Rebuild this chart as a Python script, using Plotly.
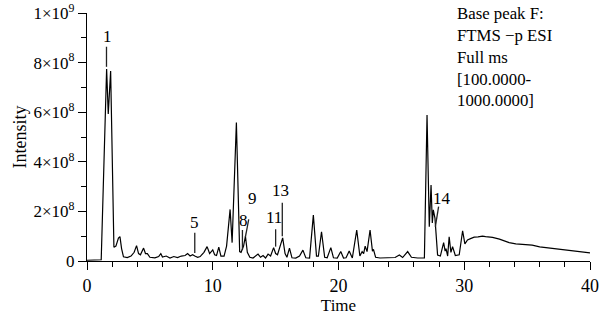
import plotly.graph_objects as go
import numpy as np

# Retention time (min)
times = [
    0.0, 1.05, 1.13, 1.56, 1.69, 1.88, 2.14, 2.3, 2.5, 2.62, 2.75, 2.9, 3.2, 3.5, 3.75, 3.94,
    4.1, 4.25, 4.4, 4.5, 4.65, 4.8, 5.0, 5.4, 5.7, 5.87, 6.0, 6.3, 6.6, 6.9, 7.2, 7.5, 7.8,
    8.0, 8.2, 8.4, 8.57, 8.8, 9.0, 9.3, 9.55, 9.75, 10.0, 10.15, 10.3, 10.48, 10.65, 10.9,
    11.1, 11.38, 11.54, 11.88, 12.14, 12.25, 12.45, 12.6, 12.75, 12.95, 13.2, 13.6, 13.8,
    14.0, 14.2, 14.4, 14.6, 14.84, 15.0, 15.15, 15.56, 15.75, 15.9, 16.1, 16.3, 16.6, 16.9,
    17.17, 17.4, 17.7, 18.0, 18.25, 18.4, 18.65, 18.9, 19.1, 19.39, 19.6, 19.9, 20.18, 20.4,
    20.6, 20.85, 21.1, 21.45, 21.7, 21.88, 22.0, 22.12, 22.27, 22.51, 22.7, 22.78, 22.95,
    23.3, 24.0, 24.5, 24.84, 25.1, 25.5, 25.8, 26.3, 26.83, 27.04, 27.22, 27.36, 27.46,
    27.54, 27.67, 27.88, 28.1, 28.36, 28.48, 28.55, 28.68, 28.8, 28.94, 29.07, 29.29, 29.6,
    29.87, 30.05, 30.26, 30.5, 30.79, 31.1, 31.45, 31.7, 32.25, 32.8, 33.57, 34.1, 35.2,
    35.4, 36.0, 37.0, 38.07, 39.0, 40.0,
]

# Intensity in units of 1e8
intensity_e8 = [
    0.03, 0.03, 0.05, 7.74, 5.93, 7.66, 0.55, 0.6, 0.92, 0.98, 0.5, 0.17, 0.14, 0.2, 0.35, 0.62,
    0.3, 0.25, 0.45, 0.52, 0.3, 0.3, 0.15, 0.13, 0.18, 0.3, 0.16, 0.2, 0.12, 0.18, 0.14, 0.2, 0.22,
    0.3, 0.2, 0.25, 0.2, 0.15, 0.18, 0.35, 0.58, 0.3, 0.45, 0.25, 0.22, 0.56, 0.2, 0.2,
    0.6, 2.08, 0.74, 5.58, 0.38, 0.35, 0.6, 1.0, 0.35, 0.15, 0.12, 0.28, 0.15,
    0.22, 0.12, 0.28, 0.2, 0.54, 0.3, 0.25, 0.93, 0.3, 0.15, 0.52, 0.13, 0.12, 0.2,
    0.44, 0.13, 0.12, 1.85, 0.2, 0.2, 1.18, 0.15, 0.13, 0.54, 0.13, 0.12, 0.38, 0.12,
    0.13, 0.4, 0.12, 1.25, 0.2, 0.38, 0.3, 0.6, 0.38, 1.25, 0.4, 0.47, 0.15,
    0.12, 0.12, 0.14, 0.24, 0.14, 0.38, 0.15, 0.12, 0.12, 5.89, 1.38, 3.06, 1.53,
    2.06, 1.73, 0.24, 0.2, 0.74, 0.4, 0.5, 0.2, 0.98, 0.35, 0.58, 0.22, 0.25,
    1.22, 0.69, 0.85, 0.9, 0.96, 0.97, 1.0, 0.98, 0.95, 0.88, 0.74, 0.69, 0.63,
    0.64, 0.57, 0.51, 0.43, 0.38, 0.33,
]

# Peak labels: text, pointer start (time, intensity e8), pointer end, label position
peak_labels = ["1", "5", "8", "9", "11", "13", "14"]
label_line_from = [(1.55, 7.83), (8.57, 0.32), (12.36, 0.44), (12.6, 0.98), (15.0, 0.58), (15.53, 1.0), (27.7, 1.38)]
label_line_to = [(1.55, 8.64), (8.57, 1.14), (12.36, 1.25), (12.86, 1.68), (15.0, 1.28), (15.53, 2.35), (27.96, 2.19)]
label_text_at = [(1.6, 9.05), (8.57, 1.57), (12.45, 1.65), (13.15, 2.53), (14.84, 1.76), (15.4, 2.86), (28.2, 2.53)]

y_tick_vals = [0, 2e8, 4e8, 6e8, 8e8, 1e9]
y_tick_text = ["0", "2×10<sup>8</sup>", "4×10<sup>8</sup>", "6×10<sup>8</sup>", "8×10<sup>8</sup>", "1×10<sup>9</sup>"]
x_tick_vals = [0, 10, 20, 30, 40]

info_lines = ["Base peak F:", "FTMS −p ESI", "Full ms", "[100.0000-", "1000.0000]"]

FONT = "Liberation Serif"

y = np.array(intensity_e8) * 1e8

fig = go.Figure()
fig.add_trace(go.Scatter(x=times, y=y, mode="lines",
                         line=dict(color="black", width=1.2), hoverinfo="skip"))

shapes = []
annotations = []
for lab, (x0, y0), (x1, y1), (tx, ty) in zip(peak_labels, label_line_from, label_line_to, label_text_at):
    shapes.append(dict(type="line", xref="x", yref="y", x0=x0, y0=y0 * 1e8, x1=x1, y1=y1 * 1e8,
                       line=dict(color="#222", width=1.3)))
    annotations.append(dict(x=tx, y=ty * 1e8, xref="x", yref="y", text=lab, showarrow=False,
                            font=dict(family=FONT, size=17, color="black")))

annotations.append(dict(x=0.7316, y=1.045, xref="paper", yref="paper", xanchor="left", yanchor="top",
                        align="left", text="<br>".join(info_lines), showarrow=False,
                        font=dict(family=FONT, size=16.8, color="black")))

fig.update_layout(
    width=600, height=320,
    margin=dict(l=87, r=10, t=13, b=59, autoexpand=False),
    plot_bgcolor="white", paper_bgcolor="white",
    showlegend=False,
    font=dict(family=FONT, size=16, color="black"),
    shapes=shapes, annotations=annotations,
    xaxis=dict(range=[0, 40], tickmode="array", tickvals=x_tick_vals, automargin=False,
               ticks="outside", ticklen=8, tickwidth=1.2, tickcolor="black",
               showline=True, linecolor="black", linewidth=1.2,
               showgrid=False, zeroline=False, ticklabeloverflow="allow",
               minor=dict(tickmode="linear", tick0=0, dtick=2, ticks="outside", ticklen=5,
                          tickwidth=1.2, tickcolor="black", showgrid=False),
               title=dict(text="Time", standoff=4, font=dict(family=FONT, size=17)),
               tickfont=dict(family=FONT, size=18)),
    yaxis=dict(range=[0, 1e9], tickmode="array", tickvals=y_tick_vals, ticktext=y_tick_text,
               automargin=False, ticklabeloverflow="allow",
               ticks="outside", ticklen=8, tickwidth=1.2, tickcolor="black",
               showline=True, linecolor="black", linewidth=1.2,
               showgrid=False, zeroline=False,
               minor=dict(tickmode="linear", tick0=0, dtick=1e8, ticks="outside", ticklen=5,
                          tickwidth=1.2, tickcolor="black", showgrid=False),
               title=dict(text="Intensity", standoff=2, font=dict(family=FONT, size=18)),
               tickfont=dict(family=FONT, size=17)),
)

# Remove the default 8px body margin so the 600x320 figure fills the window exactly.
fig.write_html("out.html", config={"displayModeBar": False},
               post_script="document.body.style.margin='0';")
